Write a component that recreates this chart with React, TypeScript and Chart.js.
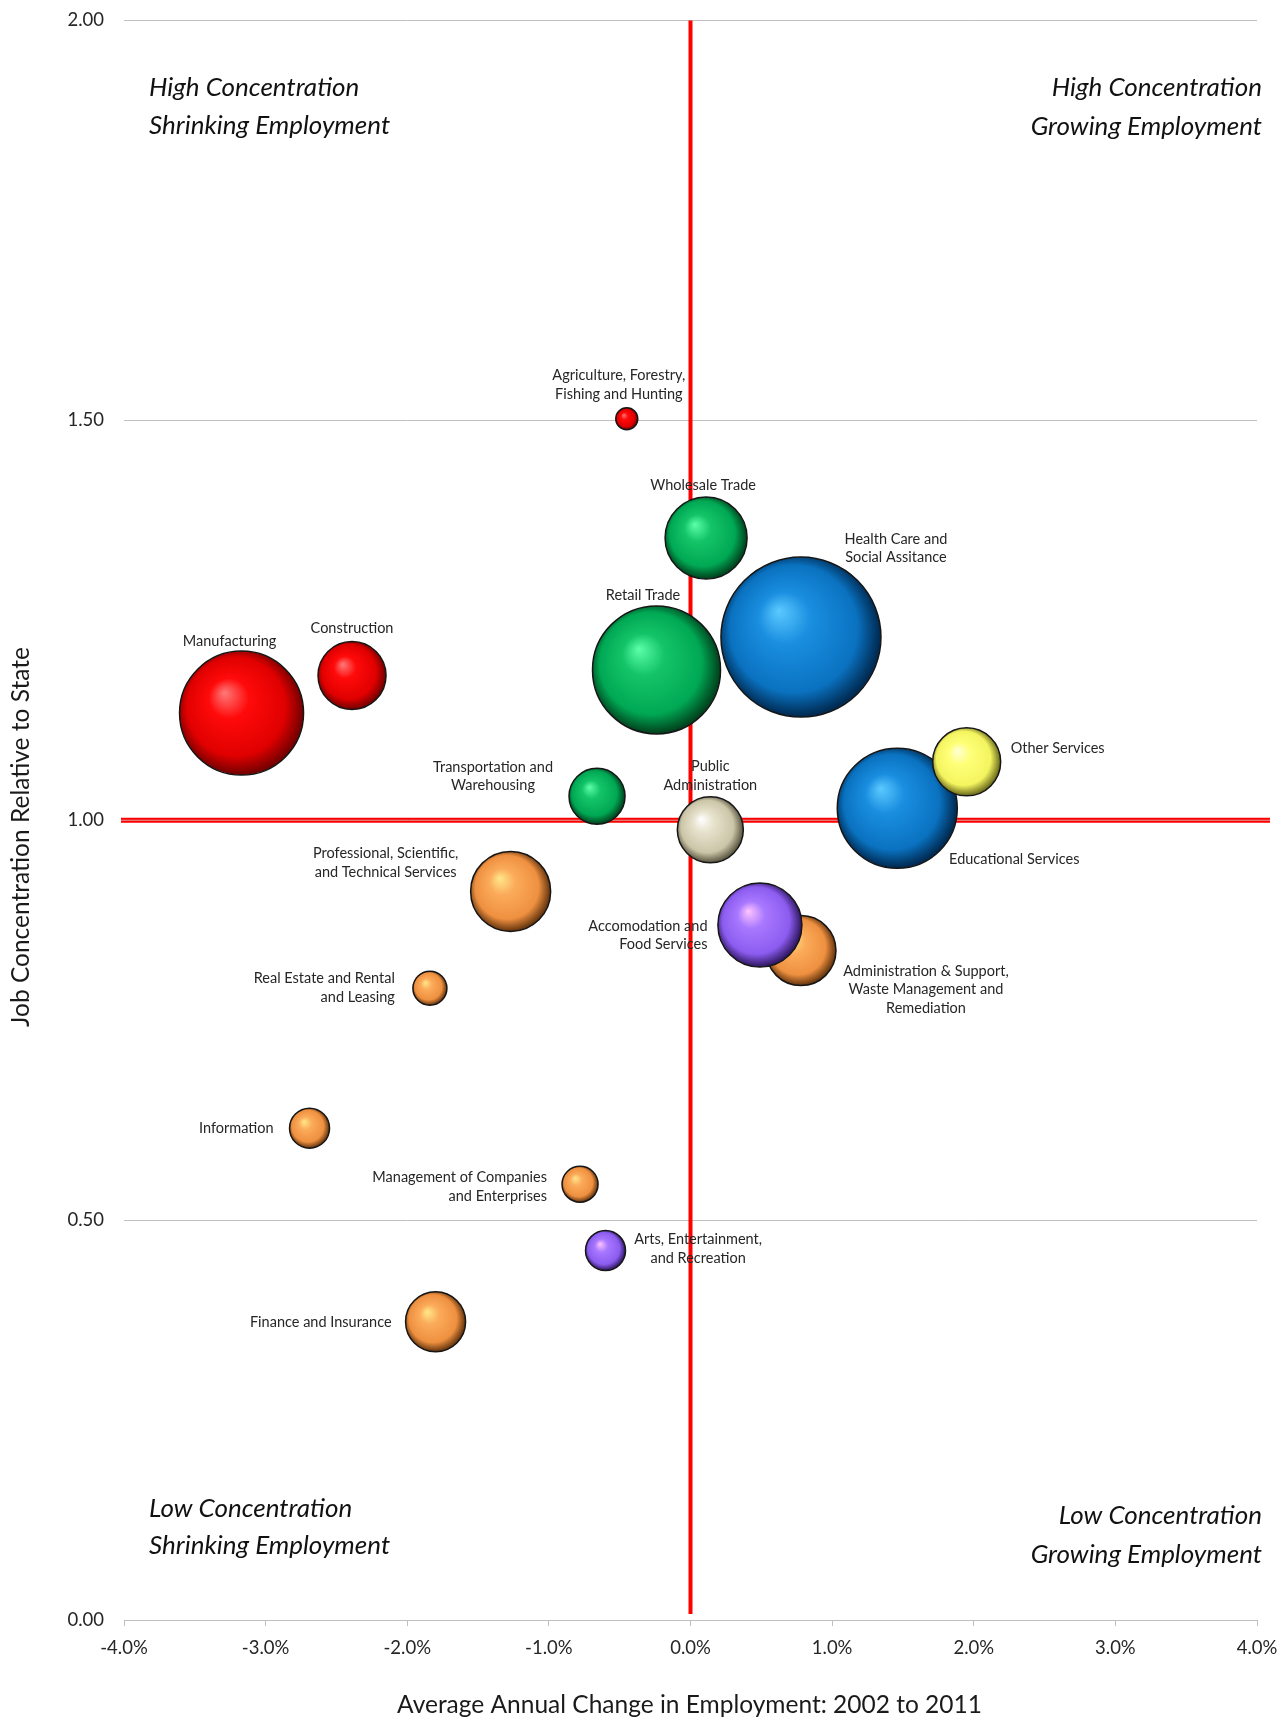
import React, { useEffect, useRef } from "react";
import { Chart, registerables } from "chart.js";

Chart.register(...registerables);

// ---------- data ----------
const industries: string[][] = [
  ["Manufacturing"],
  ["Construction"],
  ["Agriculture, Forestry,", "Fishing and Hunting"],
  ["Retail Trade"],
  ["Wholesale Trade"],
  ["Transportation and", "Warehousing"],
  ["Health Care and", "Social Assitance"],
  ["Public", "Administration"],
  ["Educational Services"],
  ["Other Services"],
  ["Professional, Scientific,", "and Technical Services"],
  ["Real Estate and Rental", "and Leasing"],
  ["Information"],
  ["Management of Companies", "and Enterprises"],
  ["Finance and Insurance"],
  ["Administration & Support,", "Waste Management and", "Remediation"],
  ["Accomodation and", "Food Services"],
  ["Arts, Entertainment,", "and Recreation"],
];

// Average annual change in employment 2002-2011 (%)
const employmentChange = [
  -3.17, -2.39, -0.45, -0.24, 0.11, -0.66, 0.78, 0.14, 1.46, 1.95, -1.27, -1.84,
  -2.69, -0.78, -1.8, 0.78, 0.49, -0.6,
];

// Job concentration relative to state
const concentration = [
  1.134, 1.181, 1.502, 1.188, 1.353, 1.03, 1.229, 0.988, 1.015, 1.073, 0.911,
  0.79, 0.615, 0.545, 0.373, 0.837, 0.869, 0.462,
];

// bubble size (radius)
const bubbleSize = [62, 34, 11, 64, 41, 28, 80, 33, 60, 34, 40, 17, 20, 18, 30, 35, 42, 20];

// colour group of each industry
const colorGroup = [
  "red", "red", "red", "green", "green", "green", "blue", "beige", "blue", "yellow",
  "orange", "orange", "orange", "orange", "orange", "orange", "purple", "purple",
];

const xTicks = { min: -4, max: 4, step: 1 };
const yTicks = { min: 0, max: 2, step: 0.5 };

const quadrantLabels = [
  ["High Concentration", "Shrinking Employment"],
  ["High Concentration", "Growing Employment"],
  ["Low Concentration", "Shrinking Employment"],
  ["Low Concentration", "Growing Employment"],
];

const xTitle = "Average Annual Change in Employment: 2002 to 2011";
const yTitle = "Job Concentration Relative to State";

// ---------- styling ----------
const palettes: Record<string, [string, string, string, string]> = {
  red: ["#ff7a7a", "#ff0a0a", "#e00000", "#780000"],
  green: ["#5cffaa", "#14c468", "#00a854", "#00461f"],
  blue: ["#5ccaff", "#1a8ee0", "#0a72c0", "#002c55"],
  orange: ["#ffe88a", "#fbab5a", "#ee9040", "#6a3810"],
  purple: ["#ffc4ff", "#a878ff", "#8c5cf0", "#331a66"],
  beige: ["#ffffff", "#e6e1cb", "#cbc5a8", "#5e5a44"],
  yellow: ["#ffffd8", "#ffff78", "#f4f460", "#70701e"],
};

// label placement: [dx, dy of first line, align]
const labelPlacement: [number, number, CanvasTextAlign][] = [
  [-12, -72, "center"],
  [0, -47.5, "center"],
  [-8, -43.4, "center"],
  [-13.5, -75, "center"],
  [-3, -52.6, "center"],
  [-104, -29.3, "center"],
  [95, -98, "center"],
  [0, -63.6, "center"],
  [117, 51.3, "center"],
  [44, -13.7, "left"],
  [-125, -38, "center"],
  [-35, -9.7, "right"],
  [-36, 0, "right"],
  [-33, -7, "right"],
  [-44, 1, "right"],
  [125, 20.3, "center"],
  [-52.4, 0.9, "right"],
  [92.6, -10.7, "center"],
];

const FONT = "Lato, 'Open Sans', 'DejaVu Sans', sans-serif";

const overlayPlugin = {
  id: "overlay",
  beforeDatasetsDraw(chart: any) {
    const { ctx, chartArea, scales } = chart;
    const x0 = scales.x.getPixelForValue(0);
    const y1 = scales.y.getPixelForValue(1);
    ctx.save();
    ctx.strokeStyle = "#ff0000";
    ctx.lineWidth = 4;
    ctx.beginPath();
    ctx.moveTo(x0, chartArea.top);
    ctx.lineTo(x0, chartArea.bottom - 6);
    ctx.stroke();
    ctx.lineWidth = 5;
    ctx.beginPath();
    ctx.moveTo(chartArea.left - 3, y1);
    ctx.lineTo(chartArea.right + 13, y1);
    ctx.stroke();
    ctx.strokeStyle = "rgba(215,175,175,0.9)";
    ctx.lineWidth = 1;
    ctx.beginPath();
    ctx.moveTo(chartArea.left - 3, y1);
    ctx.lineTo(chartArea.right + 13, y1);
    ctx.stroke();
    ctx.restore();
  },
  afterDatasetsDraw(chart: any) {
    const { ctx, chartArea } = chart;
    const meta = chart.getDatasetMeta(0);
    ctx.save();
    // bubble labels
    ctx.font = `14.5px ${FONT}`;
    ctx.fillStyle = "#262626";
    ctx.textBaseline = "middle";
    meta.data.forEach((el: any, i: number) => {
      const [dx, dy, align] = labelPlacement[i];
      ctx.textAlign = align;
      industries[i].forEach((line, k) => {
        ctx.fillText(line, el.x + dx, el.y + dy + k * 18.7);
      });
    });
    // quadrant labels
    ctx.font = `italic 26px ${FONT}`;
    ctx.fillStyle = "#111";
    const L = chartArea.left + 25;
    const R = chartArea.right + 5;
    const T = chartArea.top;
    const B = chartArea.bottom;
    ctx.textAlign = "left";
    ctx.fillText(quadrantLabels[0][0], L, T + 67.5);
    ctx.fillText(quadrantLabels[0][1], L, T + 105);
    ctx.fillText(quadrantLabels[2][0], L, B - 111);
    ctx.fillText(quadrantLabels[2][1], L, B - 74);
    ctx.textAlign = "right";
    ctx.fillText(quadrantLabels[1][0], R, T + 67.5);
    ctx.fillText(quadrantLabels[1][1], R, T + 106);
    ctx.fillText(quadrantLabels[3][0], R, B - 104);
    ctx.fillText(quadrantLabels[3][1], R, B - 65);
    // axis titles
    ctx.font = `24.5px ${FONT}`;
    ctx.fillStyle = "#1a1a1a";
    ctx.textAlign = "center";
    ctx.fillText(xTitle, (chartArea.left + chartArea.right) / 2 - 1, B + 85);
    ctx.translate(21.5, 837);
    ctx.rotate(-Math.PI / 2);
    ctx.fillText(yTitle, 0, 0);
    ctx.restore();
  },
};

function sphere(context: any) {
  const i = context.dataIndex;
  const pal = palettes[colorGroup[i]];
  const chart = context.chart;
  const raw = context.raw;
  if (!raw || !chart.chartArea || !chart.scales?.x) return pal[1];
  const cx = chart.scales.x.getPixelForValue(raw.x);
  const cy = chart.scales.y.getPixelForValue(raw.y);
  const r = raw.r;
  const g = chart.ctx.createRadialGradient(cx - 0.28 * r, cy - 0.33 * r, 0, cx - 0.04 * r, cy - 0.04 * r, r * 1.02);
  g.addColorStop(0, pal[0]);
  g.addColorStop(0.32, pal[1]);
  g.addColorStop(0.78, pal[2]);
  g.addColorStop(1, pal[3]);
  return g;
}

export default function App() {
  const ref = useRef<HTMLCanvasElement | null>(null);
  useEffect(() => {
    if (!ref.current) return;
    const data = employmentChange.map((x, i) => ({ x, y: concentration[i], r: bubbleSize[i] }));
    const chart = new Chart(ref.current, {
      type: "bubble",
      data: {
        labels: industries.map((l) => l.join(" ")),
        datasets: [
          {
            data,
            backgroundColor: sphere as any,
            borderColor: "#161616",
            borderWidth: 1.5,
            hoverBorderWidth: 1.5,
            clip: false as any,
          },
        ],
      },
      options: {
        responsive: false,
        animation: false,
        events: [],
        layout: { autoPadding: false, padding: { top: 20.5, right: 24, left: 0, bottom: 0 } },
        plugins: { legend: { display: false }, tooltip: { enabled: false } },
        scales: {
          x: {
            type: "linear",
            min: xTicks.min,
            max: xTicks.max,
            afterFit: (s: any) => {
              s.height = 98;
              s.paddingLeft = 0;
              s.paddingRight = 0;
            },
            ticks: {
              stepSize: xTicks.step,
              padding: 11,
              color: "#262626",
              font: { family: FONT, size: 18.5 },
              callback: (v: any) => Number(v).toFixed(1) + "%",
            },
            grid: { drawOnChartArea: false, drawTicks: true, tickLength: 6, color: "#bfbfbf" },
            border: { display: true, color: "#bfbfbf", width: 1 },
          },
          y: {
            type: "linear",
            min: yTicks.min,
            max: yTicks.max,
            afterFit: (s: any) => {
              s.width = 124;
              s.paddingTop = 0;
              s.paddingBottom = 0;
            },
            ticks: {
              stepSize: yTicks.step,
              padding: 20,
              color: "#262626",
              font: { family: FONT, size: 18.5 },
              callback: (v: any) => Number(v).toFixed(2),
            },
            grid: { drawTicks: false, color: "#bfbfbf", lineWidth: 1 },
            border: { display: false },
          },
        },
      },
      plugins: [overlayPlugin],
    });
    return () => chart.destroy();
  }, []);
  return (
    <div style={{ position: "absolute", left: 0, top: 0, width: 1281, height: 1718, background: "#fff" }}>
      <canvas ref={ref} width={1281} height={1718} style={{ display: "block" }} />
    </div>
  );
}
